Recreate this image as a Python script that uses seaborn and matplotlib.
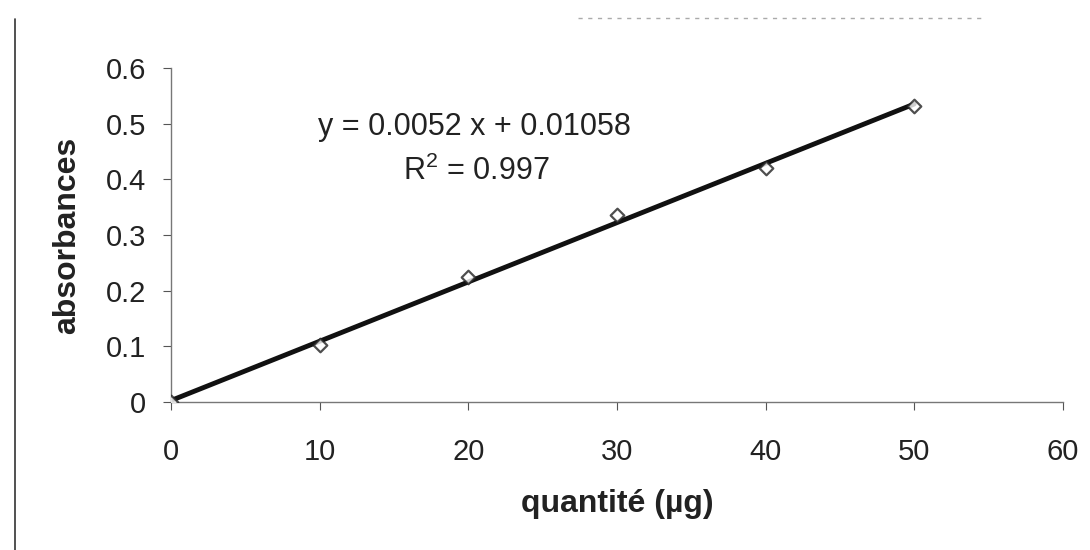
import numpy as np
import pandas as pd
import matplotlib.pyplot as plt
import matplotlib.lines as mlines
import seaborn as sns

# data
quantite = [0, 10, 20, 30, 40, 50]
absorbance = [0.0, 0.102, 0.224, 0.336, 0.421, 0.532]
x_ticks = [0, 10, 20, 30, 40, 50, 60]
y_ticks = [0, 0.1, 0.2, 0.3, 0.4, 0.5, 0.6]
y_ticklabels = ['0', '0.1', '0.2', '0.3', '0.4', '0.5', '0.6']
equation = 'y = 0.0052 x + 0.01058'
r2_text = 'R$^2$ = 0.997'

sns.set_theme(style='white')
plt.rcParams['font.family'] = ['Liberation Sans', 'DejaVu Sans']
plt.rcParams['mathtext.fontset'] = 'custom'
plt.rcParams['mathtext.rm'] = 'Liberation Sans'

df = pd.DataFrame({'quantite': quantite, 'absorbance': absorbance})

fig = plt.figure(figsize=(10.9, 5.5), dpi=100)
ax = fig.add_axes([0.157, 0.269, 0.818, 0.607])

sns.regplot(data=df, x='quantite', y='absorbance', ax=ax, ci=None,
            marker='D',
            scatter_kws={'s': 48, 'facecolors': 'white', 'edgecolors': '#222222',
                         'linewidths': 1.6, 'zorder': 3},
            line_kws={'color': '#111111', 'lw': 3.5, 'zorder': 2})

ax.set_xlim(0, 60)
ax.set_ylim(0, 0.6)
ax.set_xticks(x_ticks)
ax.set_yticks(y_ticks)
ax.set_yticklabels(y_ticklabels)
ax.tick_params(axis='both', labelsize=21, labelcolor='#222222', color='#555555',
               length=6, width=0.8, direction='out', bottom=True, left=True)
ax.tick_params(axis='y', pad=12)
ax.tick_params(axis='x', pad=20)

for side in ['top', 'right']:
    ax.spines[side].set_visible(False)
for side in ['left', 'bottom']:
    ax.spines[side].set_color('#777777')
    ax.spines[side].set_linewidth(1.0)
    ax.spines[side].set_linestyle((0, (6, 1)))

ax.set_xlabel('quantité (µg)', fontsize=23, fontweight='bold', color='#222222')
ax.set_ylabel('absorbances', fontsize=23, fontweight='bold', color='#222222')
ax.xaxis.set_label_coords(0.5, -0.26)
ax.yaxis.set_label_coords(-0.1, 0.5)

ax.text(0.34, 0.825, equation, transform=ax.transAxes, ha='center', va='center',
        fontsize=22, color='#222222')
ax.text(0.342, 0.69, r2_text, transform=ax.transAxes, ha='center', va='center',
        fontsize=22, color='#222222')

# scan edge lines
fig.add_artist(mlines.Line2D([0.014, 0.014], [0.0, 0.965], color='#333333', lw=1.2))
fig.add_artist(mlines.Line2D([0.53, 0.90], [0.967, 0.967], color='#aaaaaa', lw=1.0,
                             linestyle=(0, (3, 4))))

plt.savefig('out.png', dpi=100)
